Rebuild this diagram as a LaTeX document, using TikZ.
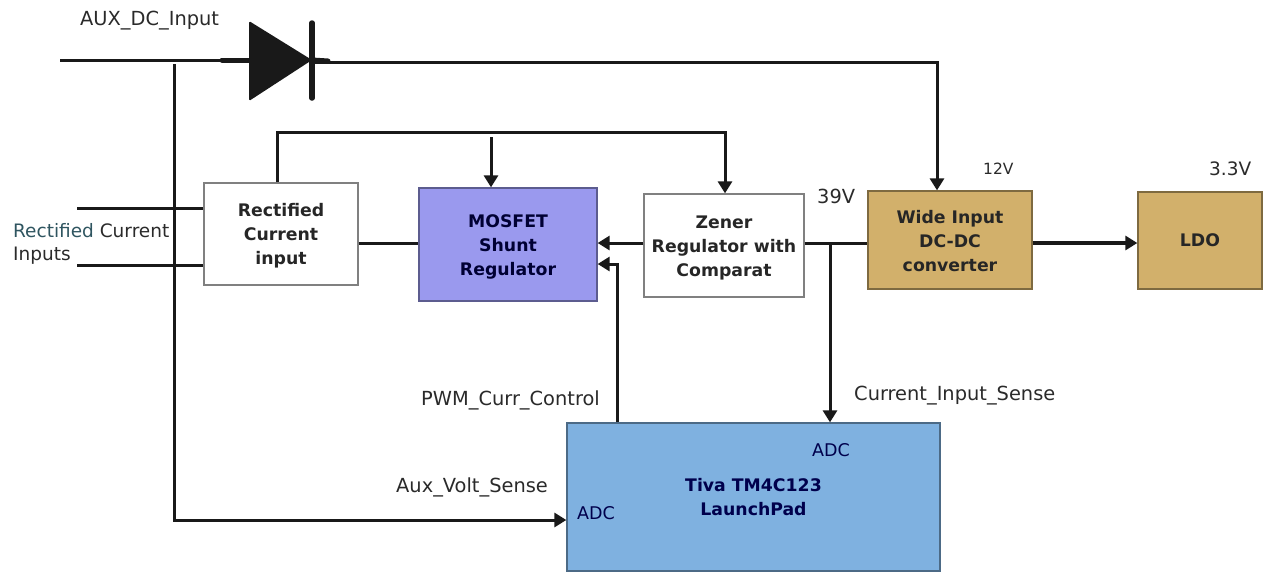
\documentclass[tikz,border=0pt]{standalone}
\usepackage{fontspec}
\setmainfont{DejaVu Sans}
\usetikzlibrary{arrows.meta,calc}
\definecolor{tan1}{HTML}{D2B06B}
\definecolor{purp}{HTML}{9A99EE}
\definecolor{blu}{HTML}{7FB1E0}
\definecolor{txt}{HTML}{2A2A2A}
\tikzset{
 blockbox/.style={draw=#1,line width=1.3pt,align=center,inner sep=0pt,text=black!85,
   font=\fontsize{17.3}{24}\selectfont\bfseries},
 wire/.style={line width=3pt,draw=black!90},
 arrowwire/.style={wire,-{Triangle[length=12pt,width=14pt]}},
 lab/.style={font=\fontsize{19.4}{24}\selectfont,text=txt,inner sep=0pt},
}
\begin{document}
\begin{tikzpicture}[x=1pt,y=-1pt]
\useasboundingbox (0,0) rectangle (1267,574);
% blocks
\node[blockbox=black!50,minimum width=154pt,minimum height=102pt,fill=white] (rect) at (281,234) {\rule{0pt}{17pt}Rectified\\Current\\input};
\node[blockbox=purp!60!black,minimum width=178pt,minimum height=113pt,fill=purp,text=blue!20!black] (mos) at (508,244.5) {\rule{0pt}{17pt}MOSFET\\Shunt\\Regulator};
\node[blockbox=black!50,minimum width=160pt,minimum height=103pt,fill=white] (zen) at (724,245.5) {\rule{0pt}{17pt}Zener\\Regulator with\\Comparat};
\node[blockbox=tan1!60!black,minimum width=164pt,minimum height=98pt,fill=tan1] (wide) at (950,240) {\rule{0pt}{15pt}Wide Input\\DC-DC\\converter};
\node[blockbox=tan1!60!black,minimum width=124pt,minimum height=97pt,fill=tan1] (ldo) at (1200,240.5) {LDO};
\node[blockbox=blu!60!black,minimum width=373pt,minimum height=148pt,fill=blu,text=blue!30!black] (tiva) at (753.5,497) {Tiva TM4C123\\LaunchPad};
% diode
\coordinate (dA) at (249,60);
\coordinate (dK) at (312,60);
\coordinate (auxS) at (60,60);
\coordinate (rIn1) at (77,208);
\coordinate (rIn2) at (77,265);
\coordinate (tapA) at (174,60);
\coordinate (tapB) at (174,520);
\coordinate (rTop) at (277,132);
\coordinate (zTop) at (725,132);
\coordinate (mTop) at (491,137);
\coordinate (wTop) at (937,62);
\coordinate (tap39) at (830,243);
\coordinate (pwmC) at (617,264);
\fill[black!90,rounded corners=1.5pt] (249,21) -- (249,101) -- (dK) -- cycle;
\draw[line width=5.5pt,line cap=round,black!90] (312,23) -- (312,98);
\draw[line width=5pt,line cap=round,black!90] (222,60) -- (dA);
\draw[line width=5pt,line cap=round,black!90] (dK) -- (328,61);
% connectors
\draw[wire] (auxS) -- (dA);
\draw[arrowwire] (dK |- wTop) -- (wTop) -- (wide.north -| wTop);
\draw[arrowwire] (tapA |- 0,64) -- (tapB) -- (tiva.west |- tapB);
\draw[wire] (rIn1) -- (rect.west |- rIn1);
\draw[wire] (rIn2) -- (rect.west |- rIn2);
\draw[arrowwire] (rect.north -| rTop) -- (rTop) -- (zTop) -- (zen.north -| zTop);
\draw[arrowwire] (mTop) -- (mos.north -| mTop);
\draw[wire] (rect.east |- 0,243) -- (mos.west |- 0,243);
\draw[arrowwire] (zen.west |- 0,243) -- (mos.east |- 0,243);
\draw[wire] (zen.east |- 0,243) -- (wide.west |- 0,243);
\draw[arrowwire] (tap39) -- (tiva.north -| tap39);
\draw[arrowwire] (tiva.north -| pwmC) -- (pwmC) -- (mos.east |- pwmC);
\draw[arrowwire,line width=3.4pt] (wide.east |- 0,243) -- (ldo.west |- 0,243);
% labels
\node[lab,anchor=west] (l1) at (80,21) {AUX\_DC\_Input};
\node[lab,anchor=west,font=\fontsize{18.5}{24}\selectfont] (l2) at (13,231) {\textcolor[HTML]{2F5560}{Rectified} Current};
\node[lab,anchor=west,font=\fontsize{18.5}{24}\selectfont] (l3) at (13,256) {Inputs};
\node[lab,anchor=west] (l4) at (817,196) {39V};
\node[lab,anchor=west,font=\fontsize{15.5}{18}\selectfont] (l5) at (983,169) {12V};
\node[lab,anchor=west,font=\fontsize{18.5}{24}\selectfont] (l6) at (1209,169) {3.3V};
\node[lab,anchor=west] (l7) at (421,400) {PWM\_Curr\_Control};
\node[lab,anchor=west] (l8) at (854,396) {Current\_Input\_Sense};
\node[lab,anchor=west] (l9) at (396,487) {Aux\_Volt\_Sense};
\node[lab,anchor=west,text=blue!30!black,font=\fontsize{17.5}{24}\selectfont] (l10) at (812,450) {ADC};
\node[lab,anchor=west,text=blue!30!black,font=\fontsize{17.5}{24}\selectfont] (l11) at (577,513) {ADC};
\end{tikzpicture}
\end{document}
